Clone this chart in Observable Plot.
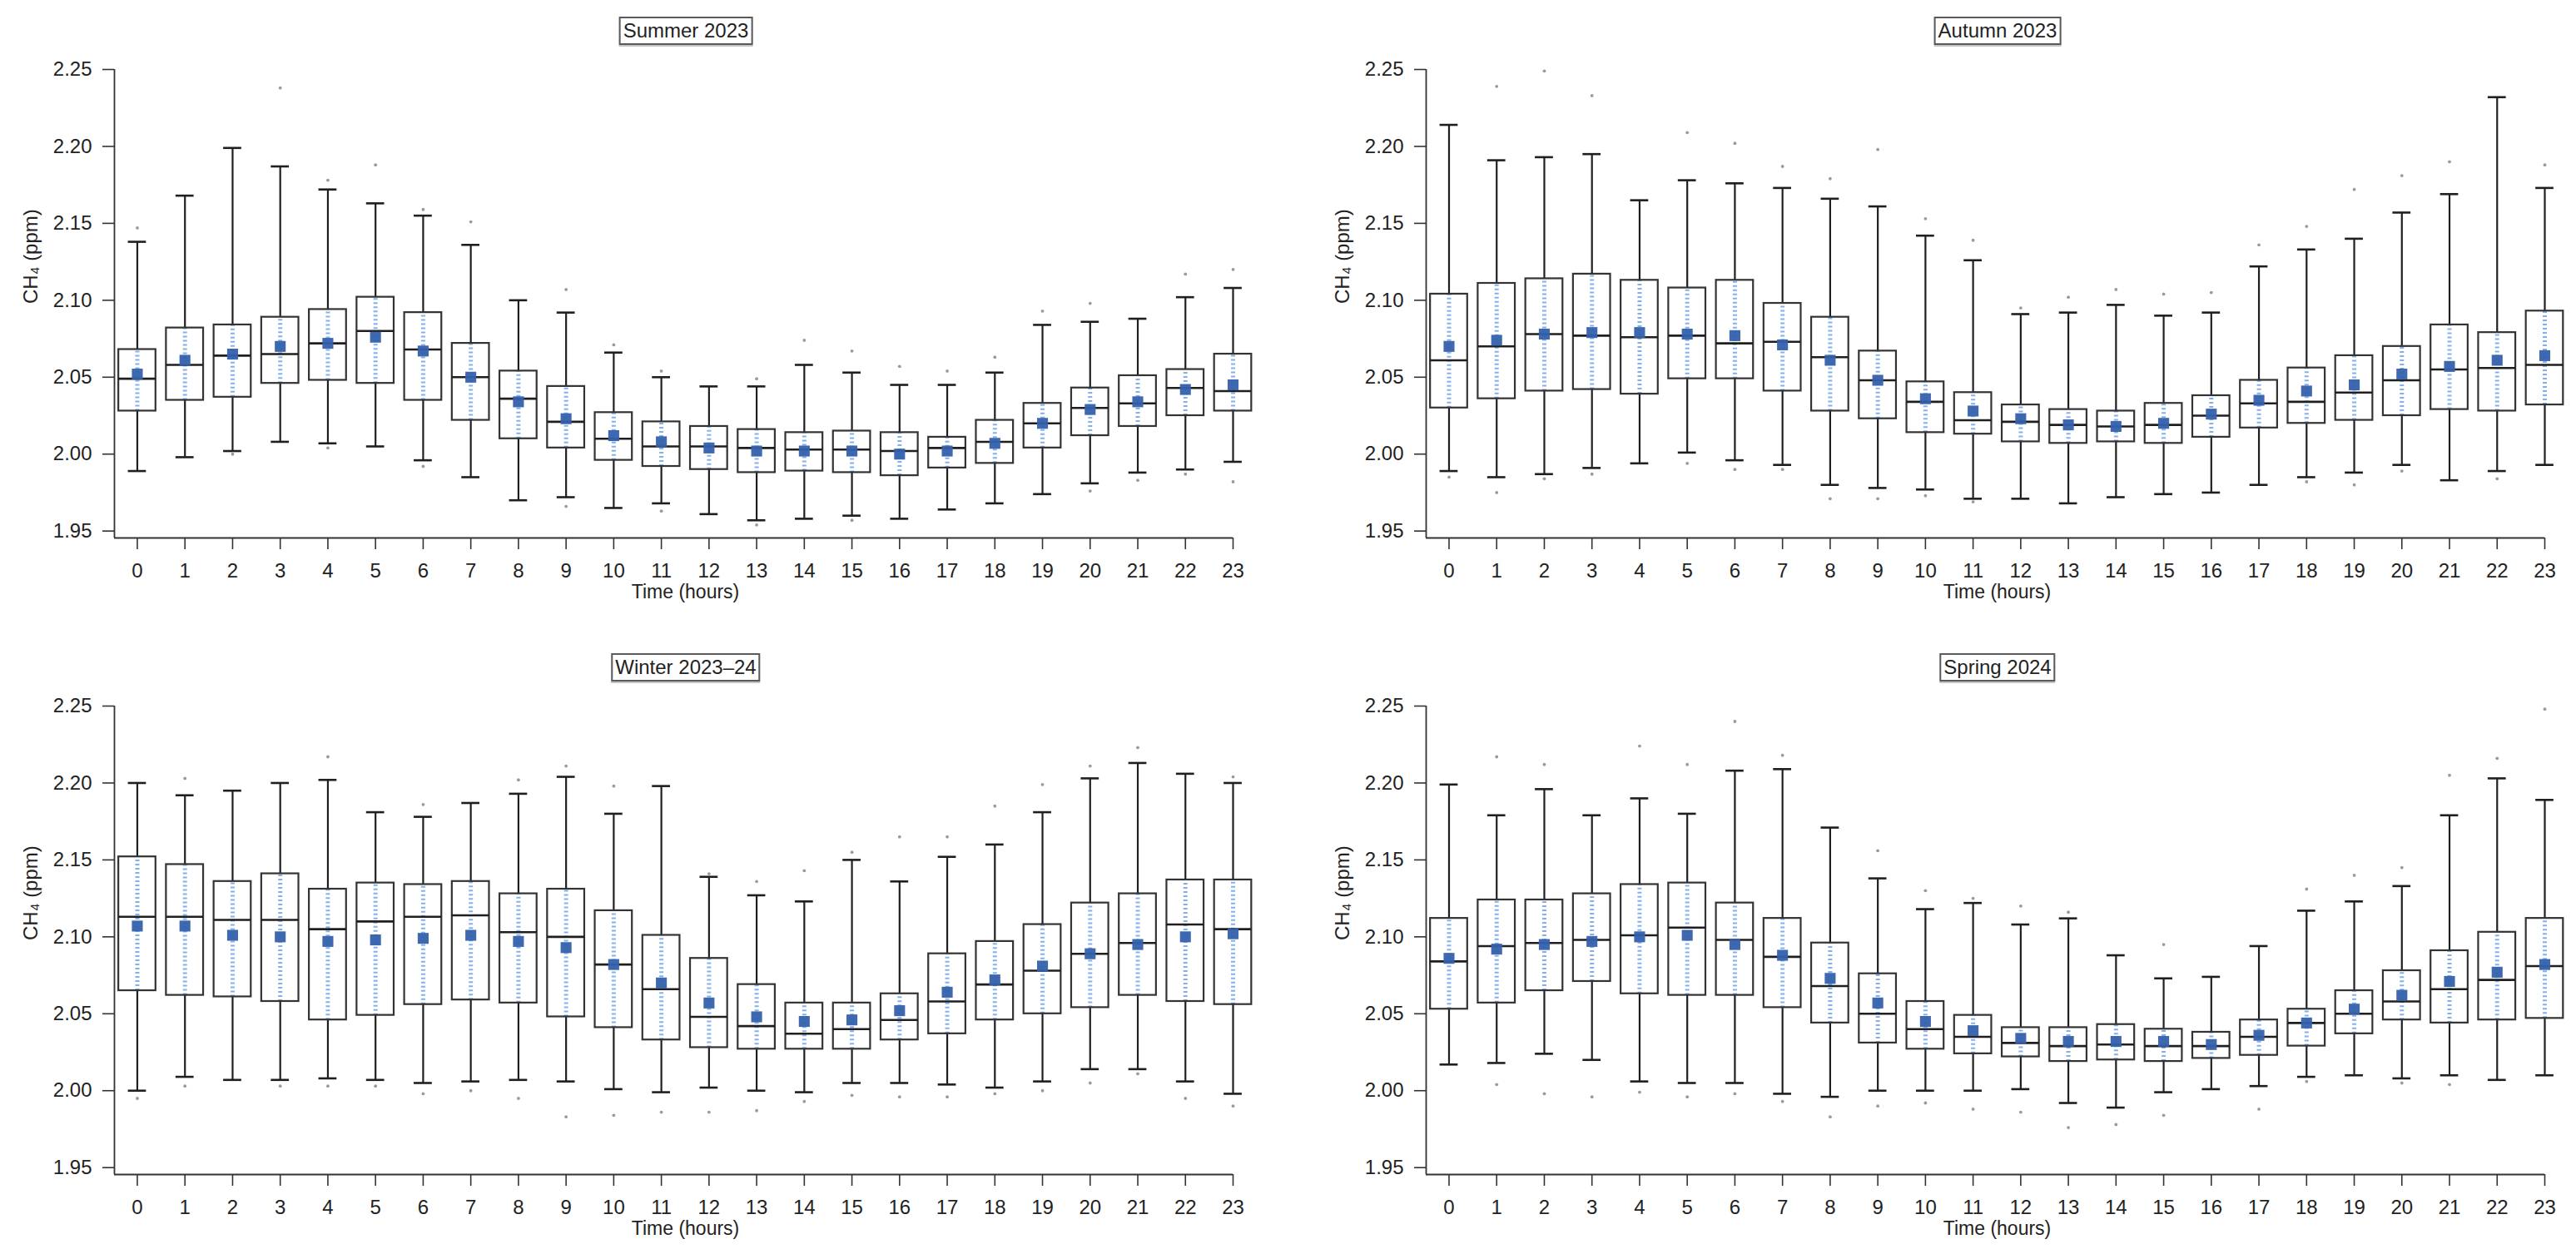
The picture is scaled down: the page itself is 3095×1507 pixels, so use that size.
<!DOCTYPE html>
<html>
<head>
<meta charset="utf-8">
<script src="https://cdn.jsdelivr.net/npm/d3@7"></script>
<script src="https://cdn.jsdelivr.net/npm/@observablehq/plot@0.6"></script>
<style>
  html, body { margin: 0; padding: 0; background: #fff; overflow: hidden; }
  body { width: 3095px; height: 1507px; position: relative; font-family: "Liberation Sans", Arial, sans-serif; }
  .panel { position: absolute; }
  .title {
    position: absolute; transform: translateX(-50%);
    font-size: 24px; line-height: 28px; color: #222;
    border: 2px solid #5a5a5a; padding: 1px 3px; background: #fff;
    box-shadow: 0 2px 0 #c4c4c4; white-space: nowrap;
  }
</style>
</head>
<body>
<script>
const hours = [0,1,2,3,4,5,6,7,8,9,10,11,12,13,14,15,16,17,18,19,20,21,22,23];
const yTicks = [1.95, 2.00, 2.05, 2.10, 2.15, 2.20, 2.25];
const seasons = ["Summer 2023", "Autumn 2023", "Winter 2023–24", "Spring 2024"];

// Summer 2023
const summerHigh   = [2.138,2.168,2.199,2.187,2.172,2.163,2.155,2.136,2.100,2.092,2.066,2.050,2.044,2.044,2.058,2.053,2.045,2.045,2.053,2.084,2.086,2.088,2.102,2.108];
const summerQ3     = [2.068,2.082,2.084,2.089,2.094,2.102,2.092,2.072,2.054,2.044,2.027,2.021,2.018,2.016,2.014,2.015,2.014,2.011,2.022,2.033,2.043,2.051,2.055,2.065];
const summerMedian = [2.049,2.058,2.064,2.065,2.072,2.080,2.068,2.050,2.036,2.021,2.010,2.005,2.005,2.004,2.003,2.003,2.002,2.004,2.008,2.020,2.030,2.033,2.043,2.041];
const summerMean   = [2.052,2.061,2.065,2.070,2.072,2.076,2.067,2.050,2.034,2.023,2.012,2.008,2.004,2.002,2.002,2.002,2.000,2.002,2.007,2.020,2.029,2.034,2.042,2.045];
const summerQ1     = [2.028,2.035,2.037,2.046,2.048,2.046,2.035,2.022,2.010,2.004,1.996,1.992,1.990,1.988,1.989,1.988,1.986,1.991,1.994,2.004,2.012,2.018,2.025,2.028];
const summerLow    = [1.989,1.998,2.002,2.008,2.007,2.005,1.996,1.985,1.970,1.972,1.965,1.968,1.961,1.957,1.958,1.960,1.958,1.964,1.968,1.974,1.981,1.988,1.990,1.995];
const summerOutliers = [[0,2.147],[2,2.000],[3,2.238],[4,2.178],[4,2.004],[5,2.188],[6,2.159],[6,1.992],[7,2.151],[9,2.107],[9,1.966],[10,2.071],[11,2.054],[11,1.963],[13,2.049],[13,1.954],[14,2.074],[15,2.067],[15,1.957],[16,2.057],[17,2.054],[18,2.063],[19,2.093],[20,2.098],[20,1.976],[21,1.983],[22,2.117],[22,1.987],[23,2.120],[23,1.982]];

// Autumn 2023
const autumnHigh   = [2.214,2.191,2.193,2.195,2.165,2.178,2.176,2.173,2.166,2.161,2.142,2.126,2.091,2.092,2.097,2.090,2.092,2.122,2.133,2.140,2.157,2.169,2.232,2.173];
const autumnQ3     = [2.104,2.111,2.114,2.117,2.113,2.108,2.113,2.098,2.089,2.067,2.047,2.040,2.032,2.029,2.028,2.033,2.038,2.048,2.056,2.064,2.070,2.084,2.079,2.093];
const autumnMedian = [2.061,2.070,2.078,2.077,2.076,2.077,2.072,2.073,2.063,2.048,2.034,2.022,2.021,2.019,2.018,2.019,2.025,2.033,2.034,2.040,2.048,2.055,2.056,2.058];
const autumnMean   = [2.070,2.074,2.078,2.079,2.079,2.078,2.077,2.071,2.061,2.048,2.036,2.028,2.023,2.019,2.018,2.020,2.026,2.035,2.041,2.045,2.052,2.057,2.061,2.064];
const autumnQ1     = [2.030,2.036,2.041,2.042,2.039,2.049,2.049,2.041,2.028,2.023,2.014,2.013,2.008,2.007,2.008,2.007,2.011,2.017,2.020,2.022,2.025,2.029,2.028,2.032];
const autumnLow    = [1.989,1.985,1.987,1.991,1.994,2.001,1.996,1.993,1.980,1.978,1.977,1.971,1.971,1.968,1.972,1.974,1.975,1.980,1.985,1.988,1.993,1.983,1.989,1.993];
const autumnOutliers = [[0,1.985],[1,2.239],[1,1.975],[2,2.249],[2,1.984],[3,2.233],[3,1.987],[5,2.209],[5,1.994],[6,2.202],[6,1.990],[7,2.187],[7,1.990],[8,2.179],[8,1.971],[9,2.198],[9,1.971],[10,2.153],[10,1.973],[11,2.139],[11,1.969],[12,2.095],[13,2.102],[14,2.107],[15,2.104],[16,2.105],[17,2.136],[18,2.148],[18,1.982],[19,2.172],[19,1.980],[20,2.181],[20,1.989],[21,2.190],[22,1.984],[23,2.188]];

// Winter 2023–24
const winterHigh   = [2.200,2.192,2.195,2.200,2.202,2.181,2.178,2.187,2.193,2.204,2.180,2.198,2.139,2.127,2.123,2.150,2.136,2.152,2.160,2.181,2.203,2.213,2.206,2.200];
const winterQ3     = [2.152,2.147,2.136,2.141,2.131,2.135,2.134,2.136,2.128,2.131,2.117,2.101,2.086,2.069,2.057,2.057,2.063,2.089,2.097,2.108,2.122,2.128,2.137,2.137];
const winterMedian = [2.113,2.113,2.111,2.111,2.105,2.110,2.113,2.114,2.103,2.100,2.082,2.066,2.048,2.042,2.037,2.040,2.046,2.058,2.069,2.078,2.089,2.096,2.108,2.105];
const winterMean   = [2.107,2.107,2.101,2.100,2.097,2.098,2.099,2.101,2.097,2.093,2.082,2.070,2.057,2.048,2.045,2.046,2.052,2.064,2.072,2.081,2.089,2.095,2.100,2.102];
const winterQ1     = [2.065,2.062,2.061,2.058,2.046,2.049,2.056,2.059,2.057,2.048,2.041,2.033,2.028,2.027,2.027,2.027,2.033,2.037,2.046,2.050,2.054,2.062,2.058,2.056];
const winterLow    = [2.000,2.009,2.007,2.007,2.008,2.007,2.005,2.006,2.007,2.006,2.001,1.999,2.002,2.000,1.999,2.005,2.005,2.004,2.002,2.006,2.014,2.014,2.006,1.998];
const winterOutliers = [[0,1.995],[1,2.203],[1,2.003],[3,2.003],[4,2.217],[4,2.003],[5,2.003],[6,2.186],[6,1.998],[7,2.000],[8,2.202],[8,1.995],[9,2.211],[9,1.983],[10,2.198],[10,1.984],[11,1.986],[12,2.141],[12,1.986],[13,2.136],[13,1.987],[14,2.143],[14,1.993],[15,2.155],[15,1.997],[16,2.165],[16,1.996],[17,2.165],[17,1.996],[18,2.185],[18,1.998],[19,2.199],[19,2.000],[20,2.211],[20,2.005],[21,2.223],[21,2.011],[22,1.995],[23,2.204],[23,1.990]];

// Spring 2024
const springHigh   = [2.199,2.179,2.196,2.179,2.190,2.180,2.208,2.209,2.171,2.138,2.118,2.122,2.108,2.112,2.088,2.073,2.074,2.094,2.117,2.123,2.133,2.179,2.203,2.189];
const springQ3     = [2.112,2.124,2.124,2.128,2.134,2.135,2.122,2.112,2.096,2.076,2.058,2.049,2.041,2.041,2.043,2.040,2.038,2.046,2.053,2.065,2.078,2.091,2.103,2.112];
const springMedian = [2.084,2.094,2.096,2.098,2.101,2.106,2.098,2.087,2.068,2.050,2.040,2.035,2.031,2.029,2.030,2.029,2.029,2.035,2.044,2.050,2.058,2.066,2.072,2.081];
const springMean   = [2.086,2.092,2.095,2.097,2.100,2.101,2.095,2.088,2.073,2.057,2.045,2.039,2.034,2.032,2.032,2.032,2.030,2.036,2.044,2.053,2.062,2.071,2.077,2.082];
const springQ1     = [2.053,2.057,2.065,2.071,2.063,2.062,2.062,2.054,2.044,2.031,2.027,2.024,2.022,2.019,2.020,2.019,2.021,2.023,2.029,2.037,2.046,2.044,2.046,2.047];
const springLow    = [2.017,2.018,2.024,2.020,2.006,2.005,2.005,1.998,1.996,2.000,2.000,2.000,2.001,1.992,1.989,1.999,2.001,2.003,2.009,2.010,2.008,2.010,2.007,2.010];
const springOutliers = [[1,2.217],[1,2.004],[2,2.212],[2,1.998],[3,1.996],[4,2.224],[4,1.999],[5,2.212],[5,1.996],[6,2.240],[6,1.998],[7,2.218],[7,1.993],[8,1.983],[9,2.156],[9,1.990],[10,2.130],[10,1.992],[11,2.125],[11,1.988],[12,2.120],[12,1.986],[13,2.116],[13,1.976],[14,1.978],[15,2.095],[15,1.984],[17,1.988],[18,2.131],[18,2.006],[19,2.140],[20,2.145],[20,2.005],[21,2.205],[21,2.004],[22,2.216],[23,2.248]];

const panels = [
  {title: seasons[0], high: summerHigh, q3: summerQ3, med: summerMedian, mean: summerMean, q1: summerQ1, low: summerLow, out: summerOutliers, left: 0,    top: 60},
  {title: seasons[1], high: autumnHigh, q3: autumnQ3, med: autumnMedian, mean: autumnMean, q1: autumnQ1, low: autumnLow, out: autumnOutliers, left: 1576, top: 60},
  {title: seasons[2], high: winterHigh, q3: winterQ3, med: winterMedian, mean: winterMean, q1: winterQ1, low: winterLow, out: winterOutliers, left: 0,    top: 825},
  {title: seasons[3], high: springHigh, q3: springQ3, med: springMedian, mean: springMean, q1: springQ1, low: springLow, out: springOutliers, left: 1576, top: 825}
];

const FONT = '"Liberation Sans", Arial, Helvetica, sans-serif';
const INK = "#222";
const X0 = -0.48, YMIN = 1.9455;
const HALF_BOX = 0.39, HALF_CAP = 0.19;

for (const p of panels) {
  const rows = hours.map((h, i) => ({h, high: p.high[i], q3: p.q3[i], med: p.med[i], mean: p.mean[i], q1: p.q1[i], low: p.low[i]}));
  const outs = p.out.map(([h, v]) => ({h, v}));

  const chart = Plot.plot({
    width: 1519, height: 680,
    marginLeft: 137, marginRight: 38, marginTop: 23, marginBottom: 94,
    style: {fontFamily: FONT, fontSize: "24px", color: INK, background: "#fff"},
    x: {domain: [X0, 23]},
    y: {domain: [YMIN, 2.25]},
    marks: [
      Plot.axisX({ticks: hours, tickFormat: d => String(d), tickSize: 14, tickPadding: 16, stroke: "#333", strokeWidth: 1.6, fontSize: 24, fill: INK, label: null}),
      Plot.axisY({ticks: yTicks, tickFormat: d3.format(".2f"), tickSize: 14, tickPadding: 13, stroke: "#333", strokeWidth: 1.6, fontSize: 24, fill: INK, label: null}),
      Plot.ruleY([YMIN], {stroke: "#333", strokeWidth: 1.8}),
      Plot.ruleX([X0], {stroke: "#333", strokeWidth: 1.8}),
      // observation strip inside the box (light blue, dotted)
      Plot.ruleX(rows, {x: "h", y1: "q1", y2: "q3", stroke: "#4f8fe6", strokeWidth: 5, strokeDasharray: "2,3", strokeOpacity: 0.7}),
      // whiskers
      Plot.ruleX(rows, {x: "h", y1: "low", y2: "q1", stroke: "#1f1f1f", strokeWidth: 2.2}),
      Plot.ruleX(rows, {x: "h", y1: "q3", y2: "high", stroke: "#1f1f1f", strokeWidth: 2.2}),
      Plot.ruleY(rows, {y: "high", x1: d => d.h - HALF_CAP, x2: d => d.h + HALF_CAP, stroke: "#1f1f1f", strokeWidth: 2.6}),
      Plot.ruleY(rows, {y: "low", x1: d => d.h - HALF_CAP, x2: d => d.h + HALF_CAP, stroke: "#1f1f1f", strokeWidth: 2.6}),
      // boxes
      Plot.rect(rows, {x1: d => d.h - HALF_BOX, x2: d => d.h + HALF_BOX, y1: "q1", y2: "q3", fill: "none", stroke: "#333", strokeWidth: 2.2}),
      Plot.ruleY(rows, {y: "med", x1: d => d.h - HALF_BOX, x2: d => d.h + HALF_BOX, stroke: "#1f1f1f", strokeWidth: 2.6}),
      // outliers
      Plot.dot(outs, {x: "h", y: "v", r: 1.9, fill: "#9a9a9a", stroke: "none"}),
      // means
      Plot.dot(rows, {x: "h", y: "mean", symbol: "square", r: 7.4, fill: "#3461ac", fillOpacity: 0.95, stroke: "none"}),
      // axis titles
      Plot.text([p.title], {frameAnchor: "left", dx: -100, rotate: -90, text: () => "CH₄ (ppm)", fontSize: 24, fill: INK}),
      Plot.text([p.title], {frameAnchor: "bottom", dx: 14, dy: 72, text: () => "Time (hours)", fontSize: 23, fill: INK})
    ]
  });

  const wrap = document.createElement("div");
  wrap.className = "panel";
  wrap.style.left = p.left + "px";
  wrap.style.top = p.top + "px";
  wrap.appendChild(chart);
  document.body.appendChild(wrap);

  const t = document.createElement("div");
  t.className = "title";
  t.textContent = p.title;
  t.style.left = (p.left + 824) + "px";
  t.style.top = (p.top - 40) + "px";
  document.body.appendChild(t);
}
</script>
</body>
</html>
